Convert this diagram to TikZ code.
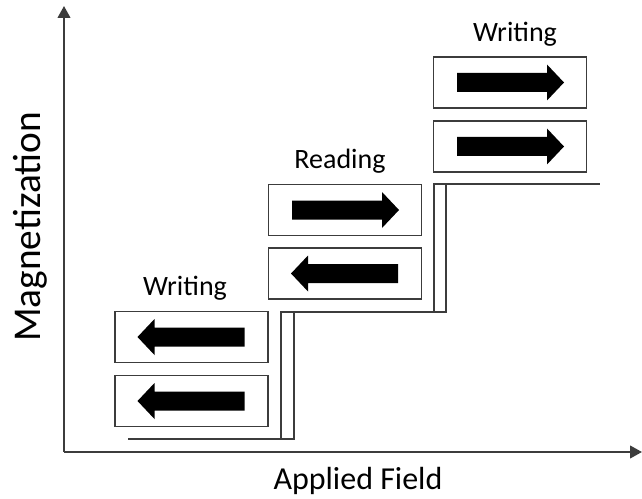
\documentclass[tikz,border=0pt]{standalone}
\usepackage{fontspec}
\setmainfont{Carlito}
\usetikzlibrary{arrows.meta}
\definecolor{linegray}{HTML}{3C3C3C}
\tikzset{
  cell/.style={draw=linegray, line width=1.1pt, minimum width=115pt, minimum height=38pt, inner sep=0pt},
  axis/.style={draw=linegray, line width=1.5pt, -{Triangle[length=9pt,width=9.5pt]}},
  stair/.style={draw=linegray, line width=1.1pt},
  lbl/.style={anchor=base, inner sep=0pt, font=\fontsize{21}{24}\selectfont},
  rarr/.pic={\fill[black] (-53,-9.5) -- (37,-9.5) -- (37,-18) -- (54,0) -- (37,18) -- (37,9.5) -- (-53,9.5) -- cycle;},
  larr/.pic={\fill[black] (53,-9.5) -- (-37,-9.5) -- (-37,-18) -- (-54,0) -- (-37,18) -- (-37,9.5) -- (53,9.5) -- cycle;}
}
\begin{document}
\begin{tikzpicture}[x=0.75pt, y=-0.75pt]
\useasboundingbox (0,0) rectangle (642,499);

% axes
\coordinate (origin) at (64,452);
\coordinate (ytip) at (64,6);
\coordinate (xtip) at (642,452);
\draw[axis] (origin) -- (ytip);
\draw[axis] (origin) -- (xtip);
\node[rotate=90, anchor=base, inner sep=0pt, font=\fontsize{29.5}{32}\selectfont] (ylab) at (40,227) {Magnetization};
\node[anchor=base, inner sep=0pt, font=\fontsize{24}{28}\selectfont] (xlab) at (358,489) {Applied Field};

% staircase (double-line steps)
\coordinate (s1) at (128,439);
\coordinate (s2) at (294,439);
\coordinate (s3) at (294,312);
\coordinate (s4) at (281,439);
\coordinate (s5) at (281,312);
\coordinate (s6) at (446,312);
\coordinate (s7) at (446,184);
\coordinate (s8) at (434,312);
\coordinate (s9) at (434,184);
\coordinate (s10) at (600,184);
\draw[stair] (s1) -- (s2) -- (s3);
\draw[stair] (s4) -- (s5) -- (s6) -- (s7);
\draw[stair] (s8) -- (s9) -- (s10);

% magnetisation state boxes
\node[cell] (wa) at (191.5,337) {};
\node[cell] (wb) at (191.5,401) {};
\node[cell] (ra) at (345,210) {};
\node[cell] (rb) at (345,273.5) {};
\node[cell] (ta) at (510,82.5) {};
\node[cell] (tb) at (510,146.5) {};

\pic at (wa) {larr};
\pic at (wb) {larr};
\pic at (ra) {rarr};
\pic at (rb) {larr};
\pic at (ta) {rarr};
\pic at (tb) {rarr};

% step labels
\node[lbl] (lw1) at (185,295) {Writing};
\node[lbl] (lr) at (340,168) {Reading};
\node[lbl] (lw2) at (515,42) {Writing};
\end{tikzpicture}
\end{document}
